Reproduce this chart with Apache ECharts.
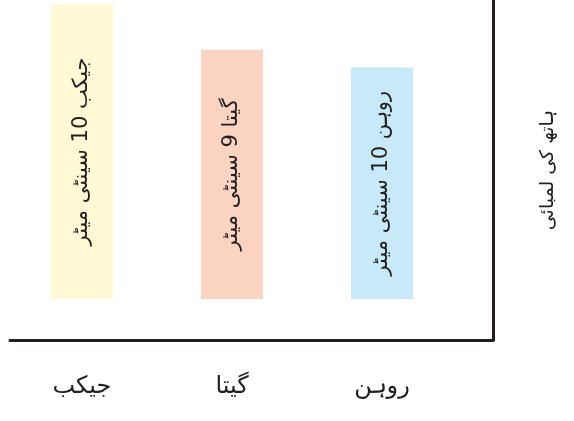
<!DOCTYPE html>
<html>
<head>
<meta charset="utf-8">
<script src="https://cdn.jsdelivr.net/npm/echarts@6/dist/echarts.min.js"></script>
<style>
  html, body { margin: 0; padding: 0; background: #fff; }
  #chart { width: 574px; height: 421px; direction: rtl; }
</style>
</head>
<body>
<div id="chart"></div>
<script>
// names of the children, bar heights as drawn, and the lengths written on the bars
var names = ['جیکب', 'گیتا', 'روہن'];
var barHeights = [10, 8.45, 7.85];
var handLengths = [10, 9, 10];
var unit = 'سینٹی میٹر';
var axisTitle = 'ہاتھ کی لمبائی';
var barColors = ['#fff9d5', '#fbd3c1', '#c8e9f8'];

var urduFont = "'DejaVu Sans', sans-serif";
var ink = '#231f20';

var chart = echarts.init(document.getElementById('chart'));

var option = {
    backgroundColor: '#ffffff',
    animation: false,
    grid: [
        { left: 7, width: 450, top: 4, bottom: 122 },   // bars
        { left: 10, right: 81, top: 0, bottom: 81 }     // frame lines
    ],
    xAxis: [
        {
            type: 'category',
            gridIndex: 0,
            data: names,
            axisLine: { show: false },
            axisTick: { show: false },
            axisLabel: {
                margin: 88,
                verticalAlign: 'middle',
                fontSize: 24,
                fontFamily: urduFont,
                color: ink
            }
        },
        {
            type: 'value',
            gridIndex: 1,
            min: 0,
            max: 1,
            axisLine: { show: true, onZero: false, lineStyle: { color: ink, width: 3 } },
            axisTick: { show: false },
            axisLabel: { show: false },
            splitLine: { show: false }
        }
    ],
    yAxis: [
        {
            type: 'value',
            gridIndex: 0,
            min: 0,
            max: 10,
            show: false
        },
        {
            type: 'value',
            gridIndex: 1,
            position: 'right',
            min: 0,
            max: 1,
            name: axisTitle,
            nameLocation: 'middle',
            nameRotate: 90,
            nameGap: 46,
            nameTextStyle: { fontSize: 19, fontFamily: urduFont, color: ink },
            axisLine: { show: true, onZero: false, lineStyle: { color: ink, width: 3 } },
            axisTick: { show: false },
            axisLabel: { show: false },
            splitLine: { show: false }
        }
    ],
    series: [
        {
            type: 'bar',
            xAxisIndex: 0,
            yAxisIndex: 0,
            barWidth: 62,
            data: barHeights.map(function (v, i) {
                return { value: v, itemStyle: { color: barColors[i] } };
            }),
            label: {
                show: true,
                position: 'inside',
                rotate: 90,
                fontSize: 21,
                fontFamily: urduFont,
                color: ink,
                formatter: function (p) {
                    return names[p.dataIndex] + ' ' + handLengths[p.dataIndex] + ' ' + unit;
                }
            }
        }
    ]
};

chart.setOption(option);
</script>
</body>
</html>
